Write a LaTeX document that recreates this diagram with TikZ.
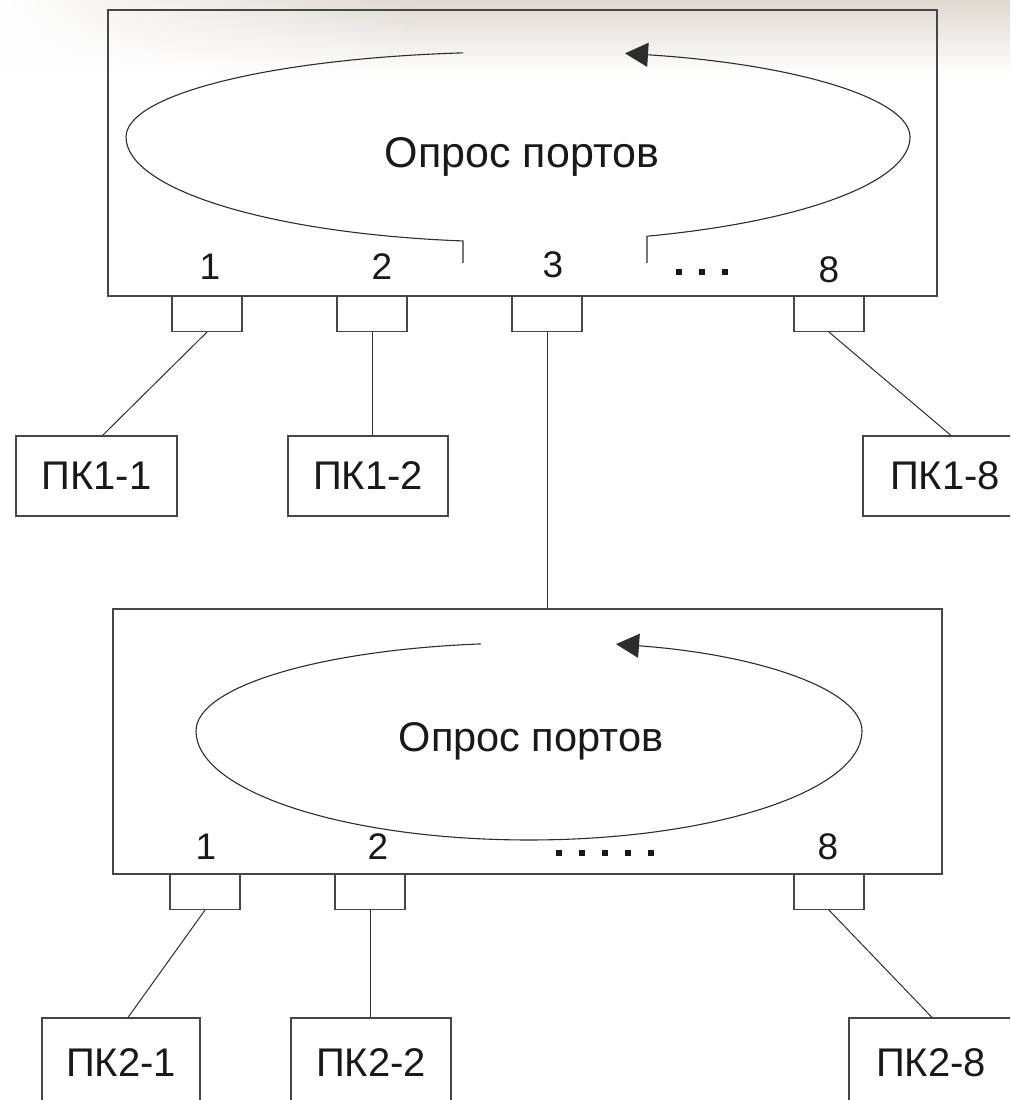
\documentclass[tikz,border=0pt]{standalone}
\usepackage{fontspec}
\setmainfont{Liberation Sans}
\usetikzlibrary{arrows.meta,fadings}
\definecolor{bgc}{RGB}{222,217,208}
\definecolor{ln}{RGB}{70,70,70}
\definecolor{lp}{RGB}{45,45,45}
\tikzfading[name=fadeR, left color=transparent!0, right color=transparent!100]
\begin{document}
\begin{tikzpicture}[x=1pt,y=-1pt,
  swbox/.style={draw=ln, line width=1.2pt, inner sep=0pt},
  portbox/.style={draw=ln, line width=1.1pt, minimum width=70pt, minimum height=35pt, inner sep=0pt, anchor=north},
  pcbox/.style={draw=ln, line width=1.1pt, inner sep=0pt, font=\fontsize{40}{42}\selectfont, text=black!90},
  numlbl/.style={inner sep=0pt, font=\fontsize{37}{40}\selectfont, text=black!90},
  conn/.style={draw=lp, line width=1pt},
  pollpath/.style={draw=lp, line width=1.1pt},
  pollarrow/.style={-{Triangle[length=23pt,width=24pt]}},
  dotsq/.style={fill=black!90}
]
\clip (0,0) rectangle (1010,1100);
% faint background shading at top
\shade[top color=bgc, bottom color=white] (0,0) rectangle (1010,75);
\fill[white, path fading=fadeR] (0,0) rectangle (420,75);

% switch 1
\node[swbox, minimum width=829pt, minimum height=286pt] (sw1) at (522.5,153) {};
\node[anchor=base, inner sep=0pt, text=black!90, font=\fontsize{43}{46}\selectfont] (t1) at (522,167) {Опрос портов};
\draw[pollpath] (463,52.84) arc[start angle=261.93, end angle=180, x radius=392, y radius=85]
  arc[start angle=180, end angle=98.07, x radius=392, y radius=105] -- (463,263);
\draw[pollpath, pollarrow] (647,263) -- (647,236.2)
  arc[start angle=70.79, end angle=0, x radius=392, y radius=105]
  arc[start angle=0, end angle=-74.16, x radius=392, y radius=87];
\node[numlbl] (n11) at (210,267) {1};
\node[numlbl] (n12) at (382,267) {2};
\node[numlbl] (n13) at (553,265) {3};
\node[numlbl] (n18) at (829,270) {8};
\foreach \x in {679,702,725} \fill[dotsq] (\x-3.25,268.75) rectangle (\x+3.25,275.25);

\node[portbox] (p11) at (207,296) {};
\node[portbox] (p12) at (372,296) {};
\node[portbox] (p13) at (547,296) {};
\node[portbox] (p18) at (829,296) {};

\node[pcbox, minimum width=161pt, minimum height=80pt] (pk11) at (96.5,476) {ПК1-1};
\node[pcbox, minimum width=160pt, minimum height=80pt] (pk12) at (368,476) {ПК1-2};
\node[pcbox, minimum width=164pt, minimum height=80pt] (pk18) at (945,476) {ПК1-8};

\draw[conn] (p11.south) -- ([xshift=6pt]pk11.north);
\draw[conn] (p12.south) -- (p12.south |- pk12.north);
\draw[conn] (p18.south) -- ([xshift=6pt]pk18.north);

% switch 2
\node[swbox, minimum width=829pt, minimum height=265pt] (sw2) at (527.5,741.5) {};
\draw[conn] (p13.south) -- (p13.south |- sw2.north);
\node[anchor=base, inner sep=0pt, text=black!90, font=\fontsize{41.5}{45}\selectfont] (t2) at (531,751) {Опрос портов};
\draw[pollpath, pollarrow] (481,643.9) arc[start angle=261.71, end angle=180, x radius=333, y radius=88]
  arc[start angle=180, end angle=0, x radius=333, y radius=109]
  arc[start angle=0, end angle=-74.85, x radius=333, y radius=90];
\node[numlbl] (n21) at (206,847) {1};
\node[numlbl] (n22) at (378,847) {2};
\node[numlbl] (n28) at (828,847) {8};
\foreach \x in {559,582,605,628,651} \fill[dotsq] (\x-3.25,849.75) rectangle (\x+3.25,856.25);

\node[portbox] (p21) at (205,874) {};
\node[portbox] (p22) at (370,874) {};
\node[portbox] (p28) at (829,874) {};

\node[pcbox, minimum width=158pt, minimum height=90pt] (pk21) at (121,1063) {ПК2-1};
\node[pcbox, minimum width=160pt, minimum height=90pt] (pk22) at (371,1063) {ПК2-2};
\node[pcbox, minimum width=164pt, minimum height=90pt] (pk28) at (931,1063) {ПК2-8};

\draw[conn] (p21.south) -- ([xshift=7pt]pk21.north);
\draw[conn] (p22.south) -- (p22.south |- pk22.north);
\draw[conn] (p28.south) -- ([xshift=1pt]pk28.north);
\end{tikzpicture}
\end{document}
